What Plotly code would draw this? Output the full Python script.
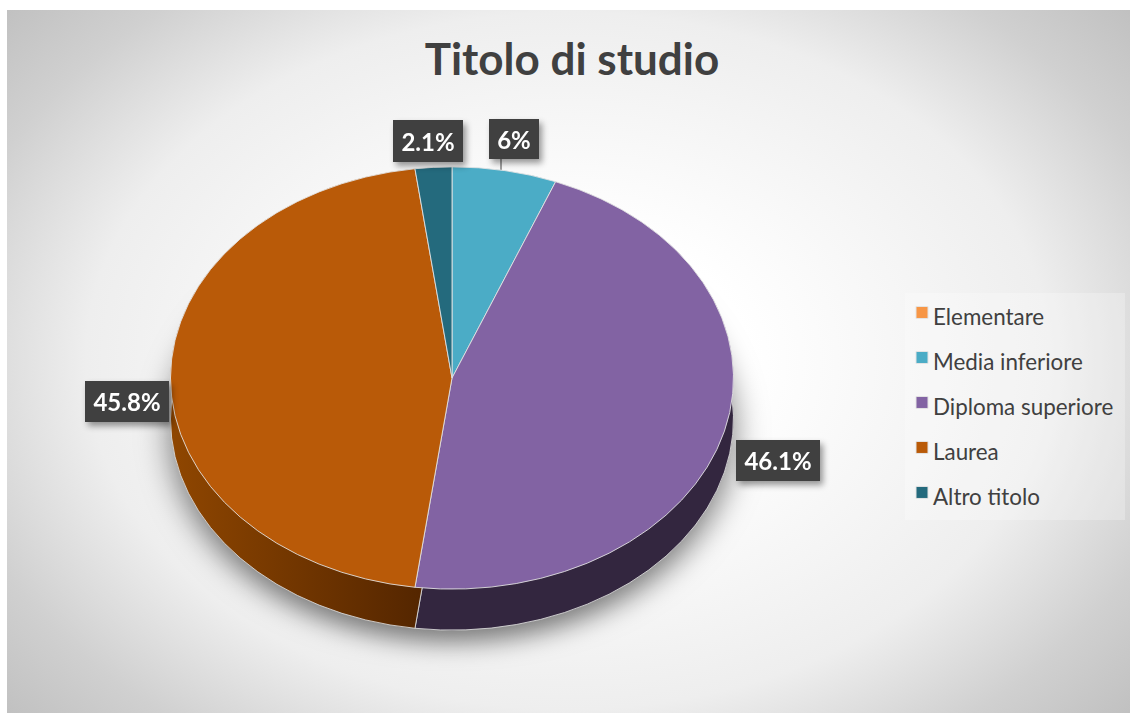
import plotly.graph_objects as go

W, H = 1135, 715
title = "Titolo di studio"
categories = ["Elementare", "Media inferiore", "Diploma superiore", "Laurea", "Altro titolo"]
values = [0, 6, 46.1, 45.8, 2.1]
top_colors = ["#f79646", "#4bacc6", "#8263a3", "#b95a08", "#246a7d"]
wall_colors = ["#8a4f1f", "#2c6b7c", "#33263f", "#6b3300", "#17424e"]
# Label boxes in pixels: category index, left, top, right, bottom
label_boxes = [(4, 393, 120, 463, 162), (1, 489, 119, 539, 159),
               (3, 85, 381, 169, 422), (2, 736, 440, 820, 481)]

FONT = "Lato, Carlito, Calibri, sans-serif"
CX, CY, RX = 452, 378, 281.5
SQUASH = 0.75
DEPTH = 41


def dom(cy):
    return dict(x=[(CX - RX) / W, (CX + RX) / W],
                y=[1 - (cy + RX) / H, 1 - (cy - RX) / H])


legend_labels = [f'<span style="font-size:22.4px">{c}</span>' for c in categories]
fig = go.Figure()
fig.add_trace(go.Pie(labels=legend_labels, values=values, sort=False, direction="clockwise",
                     rotation=0, textinfo="none", showlegend=False, hoverinfo="skip",
                     domain=dom(CY + DEPTH / SQUASH),
                     marker=dict(colors=wall_colors, line=dict(color="#d9d9d9", width=1))))
fig.add_trace(go.Pie(labels=legend_labels, values=values, sort=False, direction="clockwise",
                     rotation=0, textinfo="none", showlegend=True, hoverinfo="label+percent",
                     domain=dom(CY),
                     marker=dict(colors=top_colors, line=dict(color="#e4e4e4", width=1))))

for idx, x0, y0, x1, y1 in label_boxes:
    fig.add_annotation(xref="paper", yref="paper", x=(x0 + x1) / 2 / W, y=1 - (y0 + y1) / 2 / H,
                       xanchor="center", yanchor="middle",
                       text=f"<b>{values[idx]}%</b>", showarrow=False, width=x1 - x0, height=y1 - y0,
                       borderpad=0, borderwidth=0, bgcolor="#404040", align="center", valign="middle",
                       font=dict(family=FONT, size=24, color="white"))

fig.update_layout(
    width=W, height=H, margin=dict(l=0, r=0, t=0, b=0),
    paper_bgcolor="rgba(0,0,0,0)", plot_bgcolor="rgba(0,0,0,0)",
    font=dict(family=FONT, color="#404040"),
    title=dict(text="<b>" + title + "</b>", font=dict(family=FONT, size=44, color="#404040"),
               x=572 / W, xanchor="center", y=1 - 60 / H, yanchor="middle"),
    legend=dict(x=893 / W, y=1 - 285 / H, xanchor="left", yanchor="top", bgcolor="rgba(0,0,0,0)",
                traceorder="normal", font=dict(family=FONT, size=32.3, color="#404040")),
    shapes=[
        dict(type="rect", xref="paper", yref="paper", layer="below", x0=905 / W, x1=1125 / W,
             y0=1 - 520 / H, y1=1 - 293 / H, fillcolor="rgba(255,255,255,0.25)", line=dict(width=0)),
        dict(type="line", xref="paper", yref="paper", layer="below", x0=501 / W, x1=501 / W,
             y0=1 - 170 / H, y1=1 - 159 / H, line=dict(color="#7f7f7f", width=1.5)),
    ],
)

post = """
var gd = document.getElementById('{plot_id}');
document.body.style.margin = '0';
gd.style.background = 'radial-gradient(ellipse 720px 520px at 561px 351px, #ffffff 0%, #ffffff 25%, #eeeeee 67%, #d0d0d0 88%, #bfbfbf 105%) 7px 10px / 1123px 703px no-repeat';
var layer = gd.querySelector('.pielayer');
layer.setAttribute('transform', 'translate(0,' + (378 * (1 - 0.75)) + ') scale(1,0.75)');
var traces = layer.querySelectorAll('.trace');
traces[0].style.filter = 'drop-shadow(0 16px 16px rgba(0,0,0,0.5))';
var NS = 'http://www.w3.org/2000/svg';
var svg = layer.ownerSVGElement;
var defs = svg.querySelector('defs') || svg.insertBefore(document.createElementNS(NS, 'defs'), svg.firstChild);
var lg = document.createElementNS(NS, 'linearGradient');
lg.setAttribute('id', 'wallOrange');
[['0', '#8f4600'], ['1', '#4d2200']].forEach(function (s) {
  var st = document.createElementNS(NS, 'stop');
  st.setAttribute('offset', s[0]);
  st.setAttribute('stop-color', s[1]);
  lg.appendChild(st);
});
defs.appendChild(lg);
traces[0].querySelectorAll('path.surface').forEach(function (p) {
  if (p.style.fill.replace(/ /g, '') === 'rgb(107,51,0)') { p.style.fill = 'url(#wallOrange)'; }
});
gd.querySelectorAll('.annotation').forEach(function (a) {
  a.style.filter = 'drop-shadow(3px 4px 3px rgba(0,0,0,0.4))';
});
gd.querySelectorAll('.legendsymbols').forEach(function (s) {
  s.setAttribute('transform', 'translate(9,0)');
});
"""
fig.write_html("out.html", post_script=post, config=dict(displayModeBar=False))
